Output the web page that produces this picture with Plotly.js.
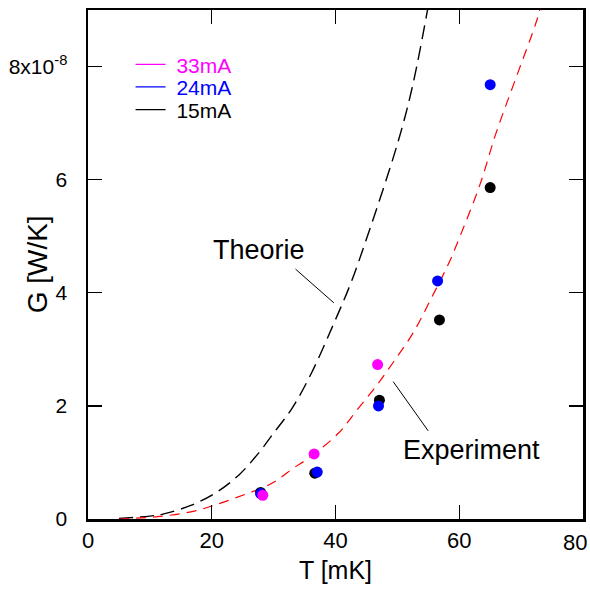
<!DOCTYPE html>
<html>
<head>
<meta charset="utf-8">
<script src="https://cdn.plot.ly/plotly-3.0.1.min.js"></script>
<style>
html,body{margin:0;padding:0;background:#fff;}
#chart{width:590px;height:592px;}
</style>
</head>
<body>
<div id="chart"></div>
<script>
// G values are in units of 1e-8 W/K
var T_33mA = [28.25, 36.55, 46.8];
var G_33mA = [0.42, 1.15, 2.73];

var T_24mA = [27.9, 37.05, 46.95, 56.5, 65.0];
var G_24mA = [0.45, 0.83, 2.00, 4.21, 7.68];

var T_15mA = [27.9, 36.65, 47.1, 56.8, 65.0];
var G_15mA = [0.47, 0.81, 2.10, 3.52, 5.86];

var T_theorie = [5, 10, 12.25, 16.6, 20.6, 24.4, 27.6, 30, 33, 36.2, 39.7, 42.4, 45, 50, 52.4, 54.8, 55.1];
var G_theorie = [0.01, 0.05, 0.09, 0.24, 0.46, 0.78, 1.17, 1.52, 1.96, 2.60, 3.45, 4.15, 4.95, 6.63, 7.63, 8.96, 9.15];

var T_experiment = [5, 10, 12, 16.8, 20.6, 25.5, 28.4, 30.6, 33.2, 35.7, 40.5, 43.5, 46.5, 49.4, 52.65, 55.6, 58.3, 60.2, 63.4, 65.9, 68.8, 72.6, 73.2];
var G_experiment = [0, 0.03, 0.05, 0.13, 0.25, 0.44, 0.56, 0.69, 0.90, 1.08, 1.52, 1.93, 2.34, 2.78, 3.31, 3.93, 4.52, 5.02, 5.93, 6.81, 7.69, 8.84, 9.1];

var xTickVals = [0, 20, 40, 60, 80];
var xTickText = ['0', '20', '40', '60', ''];   // the last label "80" is placed as an annotation so it stays inside the page
var xLastTick = 80;
var yTickVals = [0, 2, 4, 6, 8];
var yTickText = ['0', '2', '4', '6', '8x10<sup>-8</sup>'];

var legendNames = ['33mA', '24mA', '15mA'];
var legendColors = ['#ff00ff', '#0000ff', '#000000'];

var FONT = 'Liberation Sans, Arial, sans-serif';

var traces = [
  {x: T_theorie, y: G_theorie, mode: 'lines', line: {color: '#000', width: 1.4, dash: '14px,7px', shape: 'spline'}, showlegend: false, hoverinfo: 'skip'},
  {x: T_experiment, y: G_experiment, mode: 'lines', line: {color: '#ff0000', width: 1.2, dash: '10px,7px', shape: 'spline'}, showlegend: false, hoverinfo: 'skip'},
  {x: T_15mA, y: G_15mA, mode: 'markers', marker: {color: '#000', size: 11}, showlegend: false},
  {x: T_24mA, y: G_24mA, mode: 'markers', marker: {color: '#0000ff', size: 11}, showlegend: false},
  {x: T_33mA, y: G_33mA, mode: 'markers', marker: {color: '#ff00ff', size: 11}, showlegend: false}
];
var legendIds = ['legend', 'legend2', 'legend3'];
for (var i = 0; i < legendNames.length; i++) {
  traces.push({
    x: [null], y: [null], mode: 'lines',
    line: {color: legendColors[i], width: 1.2},
    name: '<span style="color:' + legendColors[i] + '">&nbsp;' + legendNames[i] + '</span>',
    showlegend: true, legend: legendIds[i]
  });
}

var axisCommon = {
  showline: true, linecolor: '#000', linewidth: 2.5, mirror: 'ticks',
  ticks: 'inside', ticklen: 14, tickwidth: 1.3, tickcolor: '#000',
  showgrid: false, zeroline: false,
  tickfont: {family: FONT, size: 21, color: '#000'}
};

function legendAt(yPaper) {
  return {
    x: 0.086, y: yPaper, xanchor: 'left', yanchor: 'middle',
    bgcolor: 'rgba(0,0,0,0)', borderwidth: 0,
    font: {family: FONT, size: 21, color: '#000'}
  };
}

var layout = {
  width: 590, height: 592,
  margin: {l: 87.5, r: 7, t: 10, b: 72.7},
  paper_bgcolor: '#fff', plot_bgcolor: '#fff',
  font: {family: FONT, color: '#000'},
  xaxis: Object.assign({}, axisCommon, {
    range: [0, 80], tickvals: xTickVals, ticktext: xTickText, ticklabelstandoff: 0,
    tickfont: {family: FONT, size: 22, color: '#000'},
    title: {text: 'T [mK]', font: {family: FONT, size: 25, color: '#000'}, standoff: 10}
  }),
  yaxis: Object.assign({}, axisCommon, {
    range: [0, 9], tickvals: yTickVals, ticktext: yTickText, ticklabelstandoff: 14
  }),
  showlegend: true,
  legend: legendAt(0.8926),
  legend2: legendAt(0.8482),
  legend3: legendAt(0.8037),
  annotations: [
    {x: -0.102, y: 0.4993, xref: 'paper', yref: 'paper', xanchor: 'center', yanchor: 'middle',
     text: 'G [W/K]', textangle: -90, showarrow: false, font: {family: FONT, size: 28, color: '#000'}},
    {x: xLastTick, y: 0, xref: 'x', yref: 'paper', xanchor: 'right', yanchor: 'top', xshift: 6, yshift: -9,
     text: String(xLastTick), showarrow: false, font: {family: FONT, size: 22, color: '#000'}},
    {x: 27.56, y: 4.75, xref: 'x', yref: 'y', text: 'Theorie', showarrow: false, font: {family: FONT, size: 27, color: '#000'}},
    {x: 61.98, y: 1.22, xref: 'x', yref: 'y', text: 'Experiment', showarrow: false, font: {family: FONT, size: 27, color: '#000'}}
  ],
  shapes: [
    {type: 'line', xref: 'x', yref: 'y', x0: 33.54, y0: 4.418, x1: 39.73, y1: 3.822, line: {color: '#000', width: 1}},
    {type: 'line', xref: 'x', yref: 'y', x0: 49.33, y0: 2.428, x1: 54.98, y1: 1.558, line: {color: '#000', width: 1}}
  ]
};

Plotly.newPlot('chart', traces, layout, {staticPlot: true, displayModeBar: false});
</script>
</body>
</html>
